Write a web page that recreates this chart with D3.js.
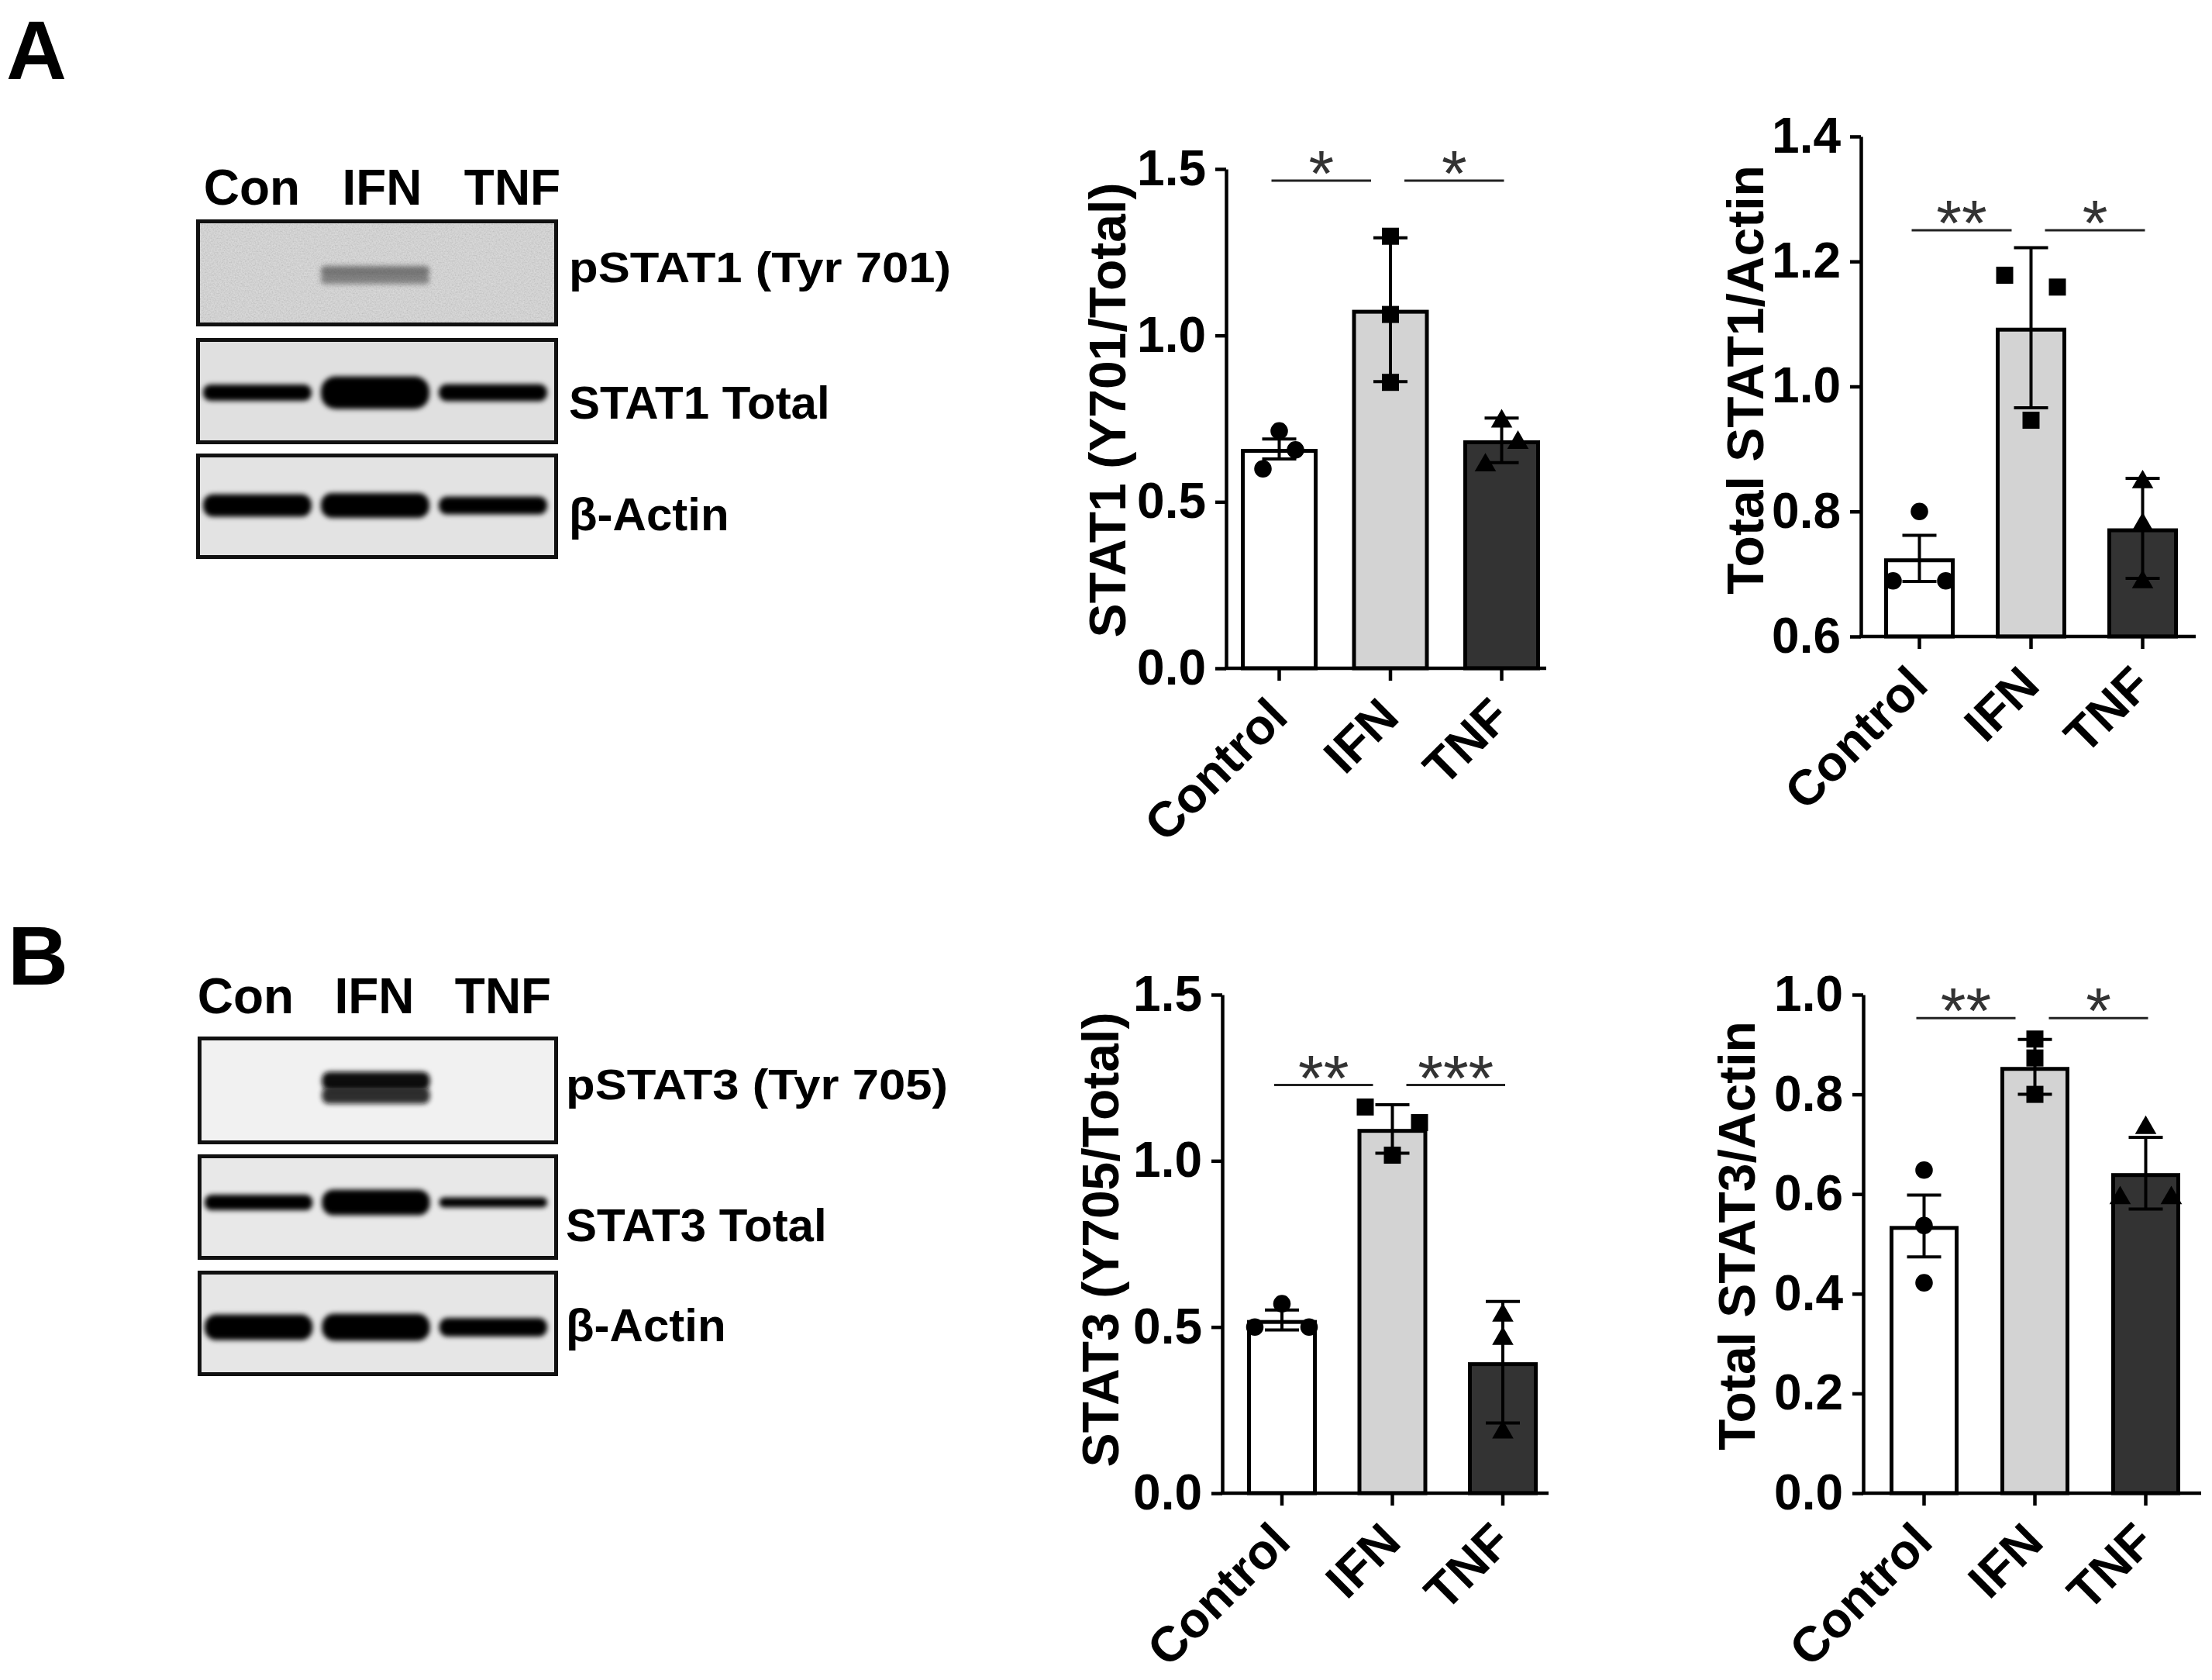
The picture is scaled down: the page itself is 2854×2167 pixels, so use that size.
<!DOCTYPE html>
<html><head><meta charset="utf-8">
<script src="https://cdn.jsdelivr.net/npm/d3@7"></script>
<style>
body{margin:0;background:#fff}
svg{display:block}
text{font-family:"Liberation Sans",Arial,Helvetica,sans-serif}
</style>
</head><body>
<svg id="fig" width="2854" height="2167"></svg>
<script>
// ---------------- DATA ----------------
const categories = ["Control", "IFN", "TNF"];
const laneLabels = ["Con", "IFN", "TNF"];
const blotRowsA = ["pSTAT1 (Tyr 701)", "STAT1 Total", "β-Actin"];
const blotRowsB = ["pSTAT3 (Tyr 705)", "STAT3 Total", "β-Actin"];
const bandStrengthA = [[0, 0.57, 0], [0.5, 1.0, 0.52], [0.69, 0.76, 0.55]];
const bandStrengthB = [[0, 1.0, 0], [0.48, 0.79, 0.31], [0.79, 0.83, 0.57]];

// A – pSTAT1 (Y701) / total
const pstat1Title = "STAT1 (Y701/Total)";
const pstat1Mean = [0.659, 1.077, 0.685];
const pstat1Err = [0.03, 0.216, 0.067];
const pstat1Pts = [[0.713, 0.656, 0.599], [1.298, 1.063, 0.859], [0.742, 0.678, 0.610]];
const pstat1Slot = [[0, 1, -1], [0, 0, 0], [0, 1, -1]];
const pstat1Ticks = [0, 0.5, 1.0, 1.5];
const pstat1Sig = ["*", "*"];
const pstat1SigLevel = 1.465;

// A – total STAT1 / actin
const stat1Title = "Total STAT1/Actin";
const stat1Mean = [0.725, 1.094, 0.773];
const stat1Err = [0.037, 0.128, 0.08];
const stat1Pts = [[0.80, 0.689, 0.689], [1.178, 1.159, 0.946], [0.847, 0.779, 0.687]];
const stat1Slot = [[0, -1, 1], [-1, 1, 0], [0, 0, 0]];
const stat1Ticks = [0.6, 0.8, 1.0, 1.2, 1.4];
const stat1Sig = ["**", "*"];
const stat1SigLevel = 1.25;

// B – pSTAT3 (Y705) / total
const pstat3Title = "STAT3 (Y705/Total)";
const pstat3Mean = [0.521, 1.096, 0.394];
const pstat3Err = [0.03, 0.073, 0.183];
const pstat3Pts = [[0.570, 0.50, 0.50], [1.162, 1.115, 1.017], [0.535, 0.465, 0.183]];
const pstat3Slot = [[0, -1, 1], [-1, 1, 0], [0, 0, 0]];
const pstat3Ticks = [0, 0.5, 1.0, 1.5];
const pstat3Sig = ["**", "***"];
const pstat3SigLevel = 1.228;

// B – total STAT3 / actin
const stat3Title = "Total STAT3/Actin";
const stat3Mean = [0.536, 0.855, 0.642];
const stat3Err = [0.062, 0.055, 0.072];
const stat3Pts = [[0.648, 0.537, 0.422], [0.911, 0.873, 0.80], [0.733, 0.592, 0.592]];
const stat3Slot = [[0, 0, 0], [0, 0, 0], [0, -1, 1]];
const stat3Ticks = [0, 0.2, 0.4, 0.6, 0.8, 1.0];
const stat3Sig = ["**", "*"];
const stat3SigLevel = 0.953;

// ---------------- DRAWING ----------------
const FONT = '"Liberation Sans", Arial, Helvetica, sans-serif';
const svg = d3.select("#fig");
svg.append("rect").attr("width", 2854).attr("height", 2167).attr("fill", "#fff");
const defs = svg.append("defs");

const blurF = defs.append("filter").attr("id", "blur")
  .attr("x", "-30%").attr("y", "-80%").attr("width", "160%").attr("height", "260%");
blurF.append("feGaussianBlur").attr("stdDeviation", 3.2);

const grainF = defs.append("filter").attr("id", "grain")
  .attr("x", 0).attr("y", 0).attr("width", "100%").attr("height", "100%");
grainF.append("feTurbulence").attr("type", "fractalNoise").attr("baseFrequency", 0.55)
  .attr("numOctaves", 2).attr("seed", 7).attr("result", "n");
grainF.append("feColorMatrix").attr("type", "matrix")
  .attr("values", "1 0 0 0 0  1 0 0 0 0  1 0 0 0 0  0 0 0 0 0.22");

// panel letters
svg.append("text").attr("x", 8).attr("y", 102).text("A")
  .attr("font-family", FONT).attr("font-weight", "bold").attr("font-size", 108);
svg.append("text").attr("x", 10).attr("y", 1270).text("B")
  .attr("font-family", FONT).attr("font-weight", "bold").attr("font-size", 108);

function drawBlot(cfg, rows, strengths) {
  const g = svg.append("g");
  const lane = d3.scaleBand().domain(laneLabels).range(cfg.laneRange).paddingInner(0.08);
  const head = d3.scalePoint().domain(laneLabels).range(cfg.headRange);
  const thick = d3.scaleLinear().domain([0, 1]).range([0, 42]);

  g.selectAll("text.head").data(laneLabels).join("text")
    .attr("class", "head")
    .attr("x", d => head(d)).attr("y", cfg.headY)
    .attr("text-anchor", "middle")
    .attr("font-family", FONT).attr("font-weight", "bold").attr("font-size", 64)
    .text(d => d);

  rows.forEach((label, i) => {
    const [b0, b1] = cfg.boxes[i];
    const clipId = cfg.id + "clip" + i;
    defs.append("clipPath").attr("id", clipId).append("rect")
      .attr("x", cfg.x0).attr("y", b0).attr("width", cfg.x1 - cfg.x0).attr("height", b1 - b0);
    const inner = g.append("g").attr("clip-path", `url(#${clipId})`);
    inner.append("rect").attr("x", cfg.x0).attr("y", b0)
      .attr("width", cfg.x1 - cfg.x0).attr("height", b1 - b0).attr("fill", cfg.bg[i]);
    if (cfg.grain[i]) {
      inner.append("rect").attr("x", cfg.x0).attr("y", b0)
        .attr("width", cfg.x1 - cfg.x0).attr("height", b1 - b0).attr("filter", "url(#grain)");
    }
    const cy = (b0 + b1) / 2 + cfg.bandDy[i];
    const bands = laneLabels.map((l, j) => ({ lane: l, s: strengths[i][j] })).filter(d => d.s > 0);
    if (cfg.doublet[i]) {
      const parts = [];
      bands.forEach(d => {
        const h = thick(d.s);
        parts.push({ lane: d.lane, y: cy - h / 2, h: h * 0.56, op: cfg.toneOp[i] });
        parts.push({ lane: d.lane, y: cy - h * 0.02, h: h * 0.5, op: cfg.toneOp[i] * 0.85 });
      });
      inner.selectAll("rect.band").data(parts).join("rect").attr("class", "band")
        .attr("x", d => lane(d.lane)).attr("width", lane.bandwidth())
        .attr("y", d => d.y).attr("height", d => d.h).attr("rx", d => d.h / 2.5)
        .attr("fill", cfg.tone[i]).attr("opacity", d => d.op).attr("filter", "url(#blur)");
    } else {
      inner.selectAll("rect.band").data(bands).join("rect").attr("class", "band")
        .attr("x", d => lane(d.lane)).attr("width", lane.bandwidth())
        .attr("y", d => cy - thick(d.s) / 2).attr("height", d => thick(d.s))
        .attr("rx", d => thick(d.s) / 2.2)
        .attr("fill", cfg.tone[i]).attr("opacity", cfg.toneOp[i]).attr("filter", "url(#blur)");
    }
    g.append("rect").attr("x", cfg.x0 + 2.5).attr("y", b0 + 2.5)
      .attr("width", cfg.x1 - cfg.x0 - 5).attr("height", b1 - b0 - 5)
      .attr("fill", "none").attr("stroke", "#111").attr("stroke-width", 5);
    const t = g.append("text").attr("x", cfg.labelX).attr("y", cfg.labelY[i])
      .attr("font-family", FONT).attr("font-weight", "bold")
      .attr("font-size", i === 0 ? 55 : 60).text(label);
    if (i === 0) t.attr("textLength", 493).attr("lengthAdjust", "spacingAndGlyphs");
  });
}

drawBlot({
  id: "A", x0: 253, x1: 720, boxes: [[283, 421], [436, 573], [585, 721]],
  headY: 264, headRange: [325, 661], laneRange: [262, 706],
  labelX: 734, labelY: [364, 540, 684],
  bg: ["#d7d7d7", "#e0e0e0", "#e3e3e3"], grain: [true, false, false],
  tone: ["#3a3a3a", "#000", "#000"], toneOp: [0.6, 1, 1],
  doublet: [true, false, false], bandDy: [3, 2, -1]
}, blotRowsA, bandStrengthA);

drawBlot({
  id: "B", x0: 255, x1: 720, boxes: [[1337, 1476], [1489, 1625], [1639, 1775]],
  headY: 1307, headRange: [317, 649], laneRange: [264, 706],
  labelX: 730, labelY: [1418, 1601, 1730],
  bg: ["#f1f1f1", "#e8e8e8", "#e6e6e6"], grain: [false, false, false],
  tone: ["#0a0a0a", "#000", "#000"], toneOp: [1, 1, 1],
  doublet: [true, false, false], bandDy: [-3, -6, 5]
}, blotRowsB, bandStrengthB);

const barFills = ["#ffffff", "#d3d3d3", "#333333"];
const symbols = [d3.symbolCircle, d3.symbolSquare, d3.symbolTriangle];
const symSizes = [400, 484, 330];

function drawChart(cfg, d) {
  const g = svg.append("g");
  const y = d3.scaleLinear().domain(cfg.domain).range([cfg.yBottom, cfg.yTop]);
  const x = d3.scaleBand().domain(categories)
    .range([cfg.firstBar, cfg.firstBar + 2 * cfg.step + cfg.bw])
    .paddingInner(1 - cfg.bw / cfg.step).paddingOuter(0);
  const cx = c => x(c) + x.bandwidth() / 2;
  const y0 = y(cfg.domain[0]);

  // bars
  g.selectAll("rect.bar").data(categories).join("rect").attr("class", "bar")
    .attr("x", c => x(c) + 2.5).attr("width", x.bandwidth() - 5)
    .attr("y", (c, i) => y(d.mean[i]) + 2.5)
    .attr("height", (c, i) => y0 - y(d.mean[i]) - 2.5)
    .attr("fill", (c, i) => barFills[i]).attr("stroke", "#000").attr("stroke-width", 5);

  // error bars
  const eb = g.selectAll("g.err").data(categories).join("g").attr("class", "err");
  eb.append("line")
    .attr("x1", c => cx(c)).attr("x2", c => cx(c))
    .attr("y1", (c, i) => y(d.mean[i] - d.err[i])).attr("y2", (c, i) => y(d.mean[i] + d.err[i]))
    .attr("stroke", "#000").attr("stroke-width", 4);
  [-1, 1].forEach(sgn => {
    eb.append("line")
      .attr("x1", c => cx(c) - 22).attr("x2", c => cx(c) + 22)
      .attr("y1", (c, i) => y(d.mean[i] + sgn * d.err[i])).attr("y2", (c, i) => y(d.mean[i] + sgn * d.err[i]))
      .attr("stroke", "#000").attr("stroke-width", 4);
  });

  // points
  const pts = [];
  categories.forEach((c, i) => d.pts[i].forEach((v, k) => pts.push({ c, i, v, slot: d.slot[i][k] })));
  g.selectAll("path.pt").data(pts).join("path").attr("class", "pt")
    .attr("d", p => d3.symbol().type(symbols[p.i]).size(symSizes[p.i])())
    .attr("transform", p => `translate(${cx(p.c) + p.slot * cfg.spreadPx},${y(p.v)})`)
    .attr("fill", "#000");

  // y axis
  const ya = g.append("g").attr("transform", `translate(${cfg.axisX},0)`)
    .call(d3.axisLeft(y).tickValues(d.ticks).tickFormat(d3.format(".1f"))
      .tickSize(14).tickPadding(12).tickSizeOuter(0));
  ya.attr("font-family", FONT).attr("font-size", 64).attr("font-weight", "bold");
  ya.selectAll("path,line").attr("stroke", "#000").attr("stroke-width", 4.5);
  ya.selectAll("text").attr("fill", "#000");

  // x baseline
  g.append("line").attr("x1", cfg.axisX - 2).attr("x2", cfg.right)
    .attr("y1", y0).attr("y2", y0).attr("stroke", "#000").attr("stroke-width", 4.5);

  // x axis ticks + labels
  const xa = g.append("g").attr("transform", `translate(0,${y0})`)
    .call(d3.axisBottom(x).tickSize(16).tickSizeOuter(0));
  xa.select(".domain").remove();
  xa.attr("font-family", FONT).attr("font-size", 64).attr("font-weight", "bold");
  xa.selectAll("line").attr("stroke", "#000").attr("stroke-width", 4.5);
  xa.selectAll("text").attr("x", 0).attr("y", 0).attr("dy", 0).attr("fill", "#000")
    .attr("text-anchor", "end").attr("transform", "translate(14,66) rotate(-45)");

  // y title
  g.append("text").attr("transform", `translate(${cfg.titleX},${cfg.titleY}) rotate(-90)`)
    .attr("text-anchor", "middle").attr("font-family", FONT).attr("font-weight", "bold")
    .attr("font-size", 66).text(d.title);

  // significance
  const sigY = y(d.sigLevel);
  const comps = [{ from: 0, to: 1, label: d.sig[0] }, { from: 1, to: 2, label: d.sig[1] }];
  const sx1 = s => cx(categories[s.from]) + (s.from === 1 ? 18 : -10);
  const sx2 = s => cx(categories[s.to]) + (s.to === 1 ? -25 : 3);
  g.selectAll("line.sig").data(comps).join("line").attr("class", "sig")
    .attr("x1", sx1).attr("x2", sx2).attr("y1", sigY).attr("y2", sigY)
    .attr("stroke", "#222").attr("stroke-width", 3);
  g.selectAll("text.sig").data(comps).join("text").attr("class", "sig")
    .attr("x", s => (sx1(s) + sx2(s)) / 2).attr("y", sigY + 20)
    .attr("text-anchor", "middle").attr("font-family", FONT).attr("font-size", 84)
    .attr("fill", "#333").text(s => s.label);
}

drawChart({ axisX: 1582, right: 1995, yBottom: 862, yTop: 218, domain: [0, 1.5],
  firstBar: 1601, step: 143.5, bw: 99, spreadPx: 21, titleX: 1452, titleY: 529 },
  { title: pstat1Title, mean: pstat1Mean, err: pstat1Err, pts: pstat1Pts, slot: pstat1Slot,
    ticks: pstat1Ticks, sig: pstat1Sig, sigLevel: pstat1SigLevel });

drawChart({ axisX: 2401, right: 2833, yBottom: 821, yTop: 176, domain: [0.6, 1.4],
  firstBar: 2431, step: 144, bw: 91, spreadPx: 34, titleX: 2275, titleY: 490 },
  { title: stat1Title, mean: stat1Mean, err: stat1Err, pts: stat1Pts, slot: stat1Slot,
    ticks: stat1Ticks, sig: stat1Sig, sigLevel: stat1SigLevel });

drawChart({ axisX: 1577, right: 1998, yBottom: 1926, yTop: 1283, domain: [0, 1.5],
  firstBar: 1609, step: 142.5, bw: 90, spreadPx: 35, titleX: 1443, titleY: 1599 },
  { title: pstat3Title, mean: pstat3Mean, err: pstat3Err, pts: pstat3Pts, slot: pstat3Slot,
    ticks: pstat3Ticks, sig: pstat3Sig, sigLevel: pstat3SigLevel });

drawChart({ axisX: 2404, right: 2840, yBottom: 1926, yTop: 1283, domain: [0, 1.0],
  firstBar: 2438, step: 143, bw: 89, spreadPx: 33, titleX: 2264, titleY: 1594 },
  { title: stat3Title, mean: stat3Mean, err: stat3Err, pts: stat3Pts, slot: stat3Slot,
    ticks: stat3Ticks, sig: stat3Sig, sigLevel: stat3SigLevel });
</script>
</body></html>
